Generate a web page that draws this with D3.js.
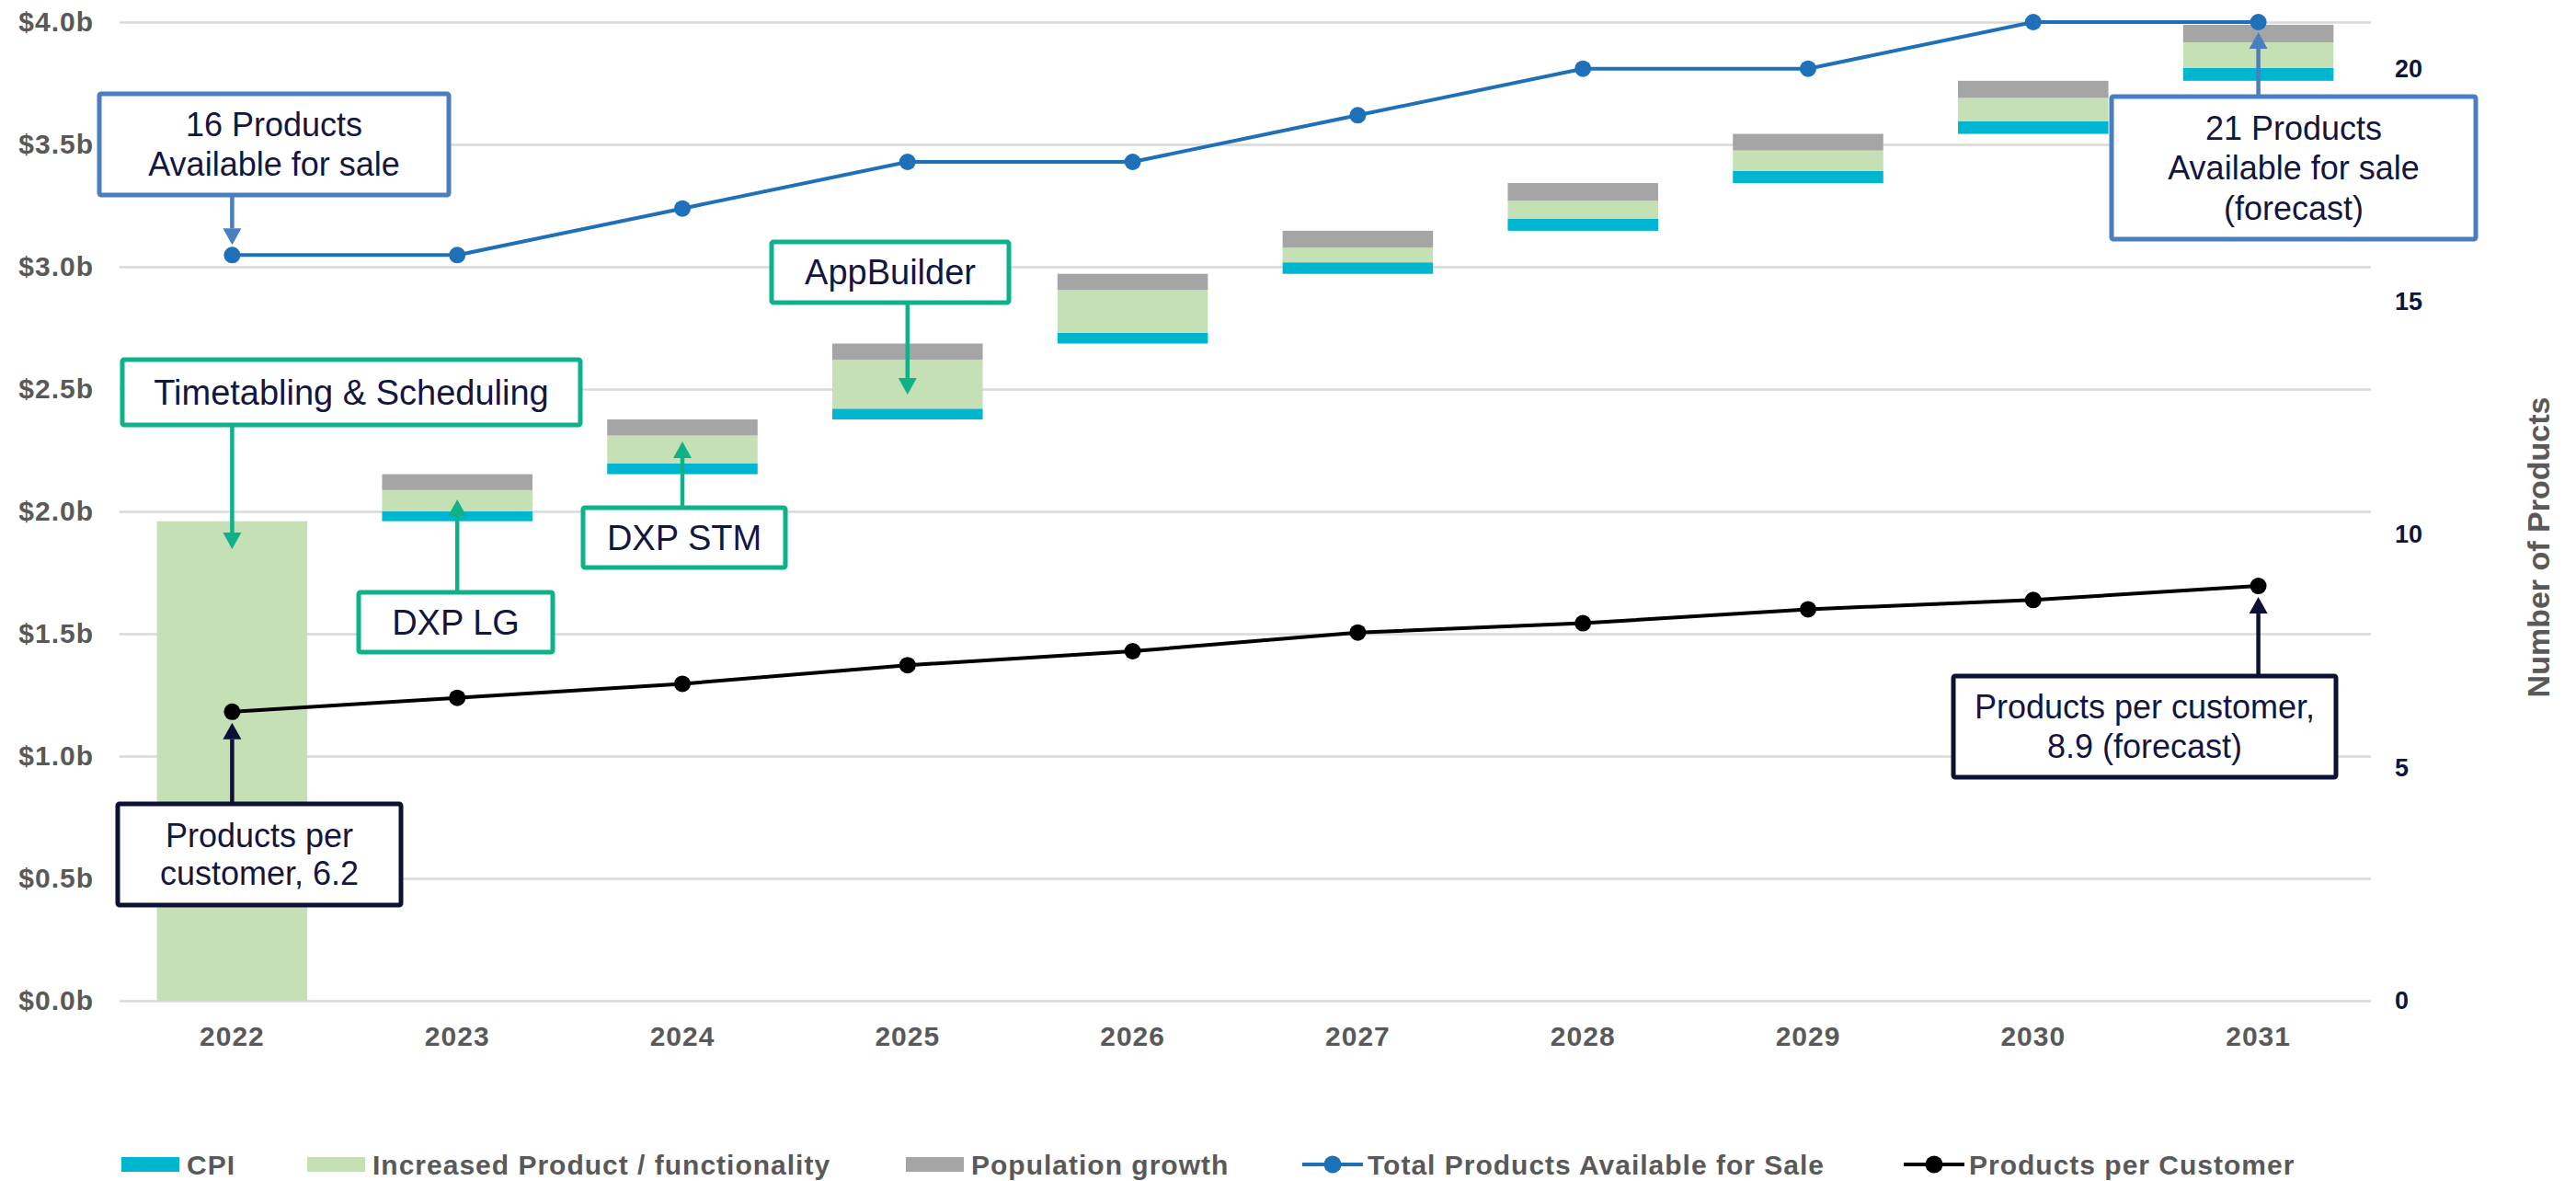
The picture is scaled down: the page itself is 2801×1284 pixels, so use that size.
<!DOCTYPE html>
<html>
<head>
<meta charset="utf-8">
<script src="https://cdn.jsdelivr.net/npm/d3@7"></script>
<style>
  html, body { margin: 0; padding: 0; background: #ffffff; }
  svg { display: block; font-family: "Liberation Sans", Arial, sans-serif; }
</style>
</head>
<body>
<svg id="chart" width="2801" height="1284"></svg>
<script>
// ---- data ----
const years = ["2022", "2023", "2024", "2025", "2026", "2027", "2028", "2029", "2030", "2031"];
// revenue increments per year ($b), stacked as a waterfall
const cpi              = [0,    0.040, 0.045, 0.044, 0.044, 0.047, 0.050, 0.049, 0.052, 0.052];
const increasedProduct = [1.96, 0.087, 0.113, 0.200, 0.175, 0.060, 0.073, 0.084, 0.095, 0.105];
const populationGrowth = [0,    0.065, 0.066, 0.066, 0.066, 0.069, 0.072, 0.068, 0.070, 0.072];
// product counts (right axis)
const totalProducts       = [16, 16, 17, 18, 18, 19, 20, 20, 21, 21];
const productsPerCustomer = [6.2, 6.5, 6.8, 7.2, 7.5, 7.9, 8.1, 8.4, 8.6, 8.9];
const leftTicks  = [0, 0.5, 1, 1.5, 2, 2.5, 3, 3.5, 4];
const rightTicks = [0, 5, 10, 15, 20];

const COLORS = {
  cpi: "#00B5CF", inc: "#C5E0B4", pop: "#A5A5A5",
  total: "#1E70B9", ppc: "#000000",
  grid: "#D9D9D9", tick: "#595959", rtick: "#0E1540",
  boxBlue: "#4A7EC0", boxGreen: "#0FB189", boxNavy: "#0E1136", boxText: "#13163F"
};

const svg = d3.select("#chart");
const plot = { left: 130, right: 2578, top: 24, bottom: 1088 };

const x = d3.scaleBand().domain(years).range([plot.left, plot.right])
  .paddingInner(0.332).paddingOuter(0.166);
const yL = d3.scaleLinear().domain([0, 4]).range([plot.bottom, plot.top]);
const yR = d3.scaleLinear().domain([0, 21]).range([plot.bottom, plot.top]);
const cx = d => x(d) + x.bandwidth() / 2;

// ---- gridlines + left axis ----
const gL = svg.append("g").attr("transform", `translate(${plot.left},0)`)
  .call(d3.axisLeft(yL).tickValues(leftTicks).tickSize(-(plot.right - plot.left))
    .tickPadding(28).tickFormat(d => "$" + d.toFixed(1) + "b"));
gL.select(".domain").remove();
gL.selectAll(".tick line").attr("stroke", COLORS.grid).attr("stroke-width", 2.5);
gL.selectAll(".tick text").attr("fill", COLORS.tick).attr("font-size", 30)
  .attr("font-weight", "bold").style("letter-spacing", "1px")
  .attr("font-family", "'Liberation Sans', Arial, sans-serif");

// ---- right axis ----
const gR = svg.append("g").attr("transform", `translate(${plot.right},0)`)
  .call(d3.axisRight(yR).tickValues(rightTicks).tickSize(0).tickPadding(26));
gR.select(".domain").remove();
gR.selectAll(".tick text").attr("fill", COLORS.rtick).attr("font-size", 27)
  .attr("font-weight", "bold").attr("font-family", "'Liberation Sans', Arial, sans-serif");

svg.append("text")
  .attr("transform", "translate(2772,595) rotate(-90)")
  .attr("text-anchor", "middle").attr("fill", COLORS.tick)
  .attr("font-size", 34).attr("font-weight", "bold")
  .text("Number of Products");

// ---- x axis ----
const gX = svg.append("g").attr("transform", `translate(0,${plot.bottom})`)
  .call(d3.axisBottom(x).tickSize(0).tickPadding(28));
gX.select(".domain").remove();
gX.selectAll(".tick text").attr("fill", COLORS.tick).attr("font-size", 30)
  .attr("font-weight", "bold").style("letter-spacing", "1px")
  .attr("font-family", "'Liberation Sans', Arial, sans-serif");

// ---- waterfall bars ----
const yearTotals = years.map((_, i) => cpi[i] + increasedProduct[i] + populationGrowth[i]);
const cum = Array.from(d3.cumsum(yearTotals));
const base = cum.map((c, i) => c - yearTotals[i]);
const segs = [];
years.forEach((yr, i) => {
  let b = base[i];
  [["cpi", cpi[i]], ["inc", increasedProduct[i]], ["pop", populationGrowth[i]]].forEach(([k, v]) => {
    if (v > 0) segs.push({ yr, k, y0: b, y1: b + v });
    b += v;
  });
});
svg.append("g").selectAll("rect").data(segs).join("rect")
  .attr("x", d => x(d.yr)).attr("width", x.bandwidth())
  .attr("y", d => yL(d.y1)).attr("height", d => yL(d.y0) - yL(d.y1))
  .attr("fill", d => COLORS[d.k]);

// ---- lines ----
function drawLine(values, color) {
  const g = svg.append("g");
  g.append("path").datum(values)
    .attr("fill", "none").attr("stroke", color).attr("stroke-width", 4)
    .attr("d", d3.line().x((d, i) => cx(years[i])).y(d => yR(d)));
  g.selectAll("circle").data(values).join("circle")
    .attr("cx", (d, i) => cx(years[i])).attr("cy", d => yR(d)).attr("r", 9)
    .attr("fill", color);
}
drawLine(totalProducts, COLORS.total);
drawLine(productsPerCustomer, COLORS.ppc);

// ---- callouts ----
function callout(o) {
  const g = svg.append("g");
  // connector with triangular head at the tip
  const dir = o.tipY > o.fromY ? 1 : -1;
  const hl = 18, hw = 10;
  g.append("line").attr("x1", o.ax).attr("x2", o.ax)
    .attr("y1", o.fromY).attr("y2", o.tipY - dir * hl)
    .attr("stroke", o.color).attr("stroke-width", 4.5);
  g.append("path")
    .attr("d", `M${o.ax - hw},${o.tipY - dir * hl} L${o.ax + hw},${o.tipY - dir * hl} L${o.ax},${o.tipY} Z`)
    .attr("fill", o.color);
  g.append("rect").attr("x", o.x0).attr("y", o.y0)
    .attr("width", o.x1 - o.x0).attr("height", o.y1 - o.y0)
    .attr("rx", 2).attr("fill", "#fff").attr("stroke", o.color).attr("stroke-width", 5);
  const n = o.lines.length;
  const midY = (o.y0 + o.y1) / 2;
  const midX = (o.x0 + o.x1) / 2;
  o.lines.forEach((t, i) => {
    g.append("text").attr("x", midX)
      .attr("y", midY + (i - (n - 1) / 2) * o.lh)
      .attr("dy", "0.35em").attr("text-anchor", "middle")
      .attr("fill", COLORS.boxText).attr("font-size", o.fs).text(t);
  });
}

callout({ lines: ["16 Products", "Available for sale"], color: COLORS.boxBlue, fs: 36, lh: 43,
  x0: 108, x1: 488, y0: 102, y1: 212, ax: cx("2022"), fromY: 212, tipY: yR(totalProducts[0]) - 11 });
callout({ lines: ["Timetabling & Scheduling"], color: COLORS.boxGreen, fs: 38, lh: 43,
  x0: 133, x1: 631, y0: 391, y1: 462, ax: cx("2022"), fromY: 462, tipY: 597 });
callout({ lines: ["DXP LG"], color: COLORS.boxGreen, fs: 38, lh: 43,
  x0: 390, x1: 601, y0: 644, y1: 709, ax: cx("2023"), fromY: 644, tipY: 543 });
callout({ lines: ["DXP STM"], color: COLORS.boxGreen, fs: 38, lh: 43,
  x0: 634, x1: 854, y0: 552, y1: 617, ax: cx("2024"), fromY: 552, tipY: 480 });
callout({ lines: ["AppBuilder"], color: COLORS.boxGreen, fs: 38, lh: 43,
  x0: 839, x1: 1097, y0: 263, y1: 329, ax: cx("2025"), fromY: 263 + 66, tipY: 429 });
callout({ lines: ["21 Products", "Available for sale", "(forecast)"], color: COLORS.boxBlue, fs: 36, lh: 43.5,
  x0: 2296, x1: 2692, y0: 105, y1: 260, ax: cx("2031"), fromY: 105, tipY: yR(totalProducts[9]) + 11 });
callout({ lines: ["Products per", "customer, 6.2"], color: COLORS.boxNavy, fs: 36, lh: 41,
  x0: 128, x1: 436, y0: 874, y1: 984, ax: cx("2022"), fromY: 874, tipY: yR(productsPerCustomer[0]) + 12 });
callout({ lines: ["Products per customer,", "8.9 (forecast)"], color: COLORS.boxNavy, fs: 36, lh: 43,
  x0: 2124, x1: 2540, y0: 735, y1: 845, ax: cx("2031"), fromY: 735, tipY: yR(productsPerCustomer[9]) + 12 });

// ---- legend ----
const legend = svg.append("g").attr("font-size", 30).attr("font-weight", "bold")
  .attr("fill", COLORS.tick).style("letter-spacing", "1px");
const legendY = 1266;
const legendItems = [
  { type: "rect", color: COLORS.cpi, x: 132, label: "CPI" },
  { type: "rect", color: COLORS.inc, x: 334, label: "Increased Product / functionality" },
  { type: "rect", color: COLORS.pop, x: 985, label: "Population growth" },
  { type: "line", color: COLORS.total, x: 1416, label: "Total Products Available for Sale" },
  { type: "line", color: COLORS.ppc, x: 2070, label: "Products per Customer" }
];
legendItems.forEach(it => {
  if (it.type === "rect") {
    legend.append("rect").attr("x", it.x).attr("y", legendY - 8).attr("width", 63).attr("height", 16)
      .attr("fill", it.color);
  } else {
    legend.append("line").attr("x1", it.x).attr("x2", it.x + 66)
      .attr("y1", legendY).attr("y2", legendY)
      .attr("stroke", it.color).attr("stroke-width", 4);
    legend.append("circle").attr("cx", it.x + 33).attr("cy", legendY).attr("r", 9.5).attr("fill", it.color);
  }
  legend.append("text").attr("x", it.x + 71).attr("y", legendY).attr("dy", "0.36em").text(it.label);
});
</script>
</body>
</html>
